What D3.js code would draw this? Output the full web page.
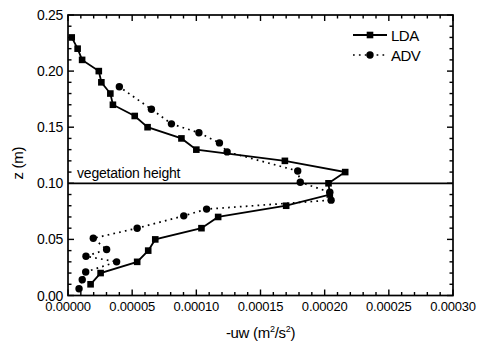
<!DOCTYPE html>
<html>
<head>
<meta charset="utf-8">
<script src="https://cdn.jsdelivr.net/npm/d3@7"></script>
<style>
  html, body { margin: 0; padding: 0; background: #fff; }
  svg { display: block; font-family: "Liberation Sans", Arial, sans-serif; }
</style>
</head>
<body>
<div id="chart"></div>
<script>
// ---------------------------------------------------------------------------
// Data: shear stress -uw vs height z
// ---------------------------------------------------------------------------
const ldaZ = [0.01, 0.02, 0.03, 0.04, 0.05, 0.06, 0.07, 0.08, 0.09, 0.10, 0.11, 0.12,
  0.13, 0.14, 0.15, 0.16, 0.17, 0.18, 0.19, 0.20, 0.21, 0.22, 0.23];
const ldaUw = [0.0000176, 0.0000254, 0.0000539, 0.0000625, 0.000068, 0.000104, 0.000117,
  0.00017, 0.000204, 0.000203, 0.000216, 0.000169, 0.0001, 0.0000884, 0.000062, 0.000052,
  0.000035, 0.000033, 0.000026, 0.000024, 0.000011, 0.0000075, 0.0000029];

const advZ = [0.006, 0.014, 0.021, 0.030, 0.035, 0.041, 0.051, 0.060, 0.071, 0.077, 0.085,
  0.092, 0.101, 0.111, 0.128, 0.136, 0.145, 0.153, 0.166, 0.186];
const advUw = [0.0000086, 0.0000111, 0.0000138, 0.0000379, 0.000014, 0.0000301, 0.0000197,
  0.0000539, 0.0000902, 0.000108, 0.000205, 0.000204, 0.000181, 0.000179, 0.000124,
  0.000118, 0.000102, 0.0000806, 0.000065, 0.00004];

const xTicks = [0, 0.00005, 0.0001, 0.00015, 0.0002, 0.00025, 0.0003];
const yTicks = [0, 0.05, 0.10, 0.15, 0.20, 0.25];
const xMinorTicks = [0.00001, 0.00002, 0.00003, 0.00004, 0.00006, 0.00007, 0.00008, 0.00009,
  0.00011, 0.00012, 0.00013, 0.00014, 0.00016, 0.00017, 0.00018, 0.00019, 0.00021, 0.00022,
  0.00023, 0.00024, 0.00026, 0.00027, 0.00028, 0.00029];
const yMinorTicks = [0.01, 0.02, 0.03, 0.04, 0.06, 0.07, 0.08, 0.09, 0.11, 0.12, 0.13, 0.14,
  0.16, 0.17, 0.18, 0.19, 0.21, 0.22, 0.23, 0.24];
const vegetationHeight = 0.10;

const width = 483, height = 349;
const margin = { top: 15, right: 30, bottom: 53.5, left: 68 };

const svg = d3.select('#chart').append('svg')
  .attr('width', width)
  .attr('height', height);

const x = d3.scaleLinear().domain([0, 0.0003]).range([margin.left, width - margin.right]);
const y = d3.scaleLinear().domain([0, 0.25]).range([height - margin.bottom, margin.top]);

const x0 = x.range()[0], x1 = x.range()[1];
const y0 = y.range()[0], y1 = y.range()[1];

// ---------------------------------------------------------------------------
// Ticks (pointing inward on all four sides)
// ---------------------------------------------------------------------------
const tickG = svg.append('g');

function addXTicks(values, len) {
  tickG.selectAll(null)
    .data(values)
    .enter().append('rect')
    .attr('x', d => x(d) - 0.7).attr('y', y0 - len)
    .attr('width', 1.4).attr('height', len)
    .attr('fill', '#000');
  tickG.selectAll(null)
    .data(values)
    .enter().append('rect')
    .attr('x', d => x(d) - 0.7).attr('y', y1)
    .attr('width', 1.4).attr('height', len)
    .attr('fill', '#000');
}
function addYTicks(values, len) {
  tickG.selectAll(null)
    .data(values)
    .enter().append('rect')
    .attr('x', x0).attr('y', d => y(d) - 0.7)
    .attr('width', len).attr('height', 1.4)
    .attr('fill', '#000');
  tickG.selectAll(null)
    .data(values)
    .enter().append('rect')
    .attr('x', x1 - len).attr('y', d => y(d) - 0.7)
    .attr('width', len).attr('height', 1.4)
    .attr('fill', '#000');
}
addXTicks(xTicks, 6);
addXTicks(xMinorTicks, 3.5);
addYTicks(yTicks, 6);
addYTicks(yMinorTicks, 3.5);

// tick labels
svg.append('g').selectAll('text')
  .data(xTicks)
  .join('text')
  .attr('x', d => x(d))
  .attr('y', y0 + 15)
  .attr('text-anchor', 'middle')
  .attr('font-size', 13).attr('letter-spacing', -0.2)
  .text(d3.format('.5f'));

svg.append('g').selectAll('text')
  .data(yTicks)
  .join('text')
  .attr('x', x0 - 5)
  .attr('y', d => y(d) + 5)
  .attr('text-anchor', 'end')
  .attr('font-size', 14).attr('letter-spacing', -0.3)
  .text(d3.format('.2f'));

// frame
svg.append('rect')
  .attr('x', x0).attr('y', y1)
  .attr('width', x1 - x0).attr('height', y0 - y1)
  .attr('fill', 'none').attr('stroke', '#000').attr('stroke-width', 1.7);

// vegetation height line
svg.append('line')
  .attr('x1', x0).attr('x2', x1)
  .attr('y1', y(vegetationHeight)).attr('y2', y(vegetationHeight))
  .attr('stroke', '#000').attr('stroke-width', 1.7);

svg.append('text')
  .attr('x', 77).attr('y', y(vegetationHeight) - 5)
  .attr('font-size', 14).attr('letter-spacing', -0.2)
  .text('vegetation height');

// ---------------------------------------------------------------------------
// Series
// ---------------------------------------------------------------------------
const lda = ldaZ.map((z, i) => ({ z, uw: ldaUw[i] }));
const adv = advZ.map((z, i) => ({ z, uw: advUw[i] }));

const lineGen = d3.line().x(d => x(d.uw)).y(d => y(d.z));

svg.append('path')
  .datum(adv)
  .attr('d', lineGen)
  .attr('fill', 'none')
  .attr('stroke', '#000')
  .attr('stroke-width', 1.7)
  .attr('stroke-dasharray', '1.7,4.2');

svg.append('path')
  .datum(lda)
  .attr('d', lineGen)
  .attr('fill', 'none')
  .attr('stroke', '#000')
  .attr('stroke-width', 1.8);

svg.selectAll('.adv-pt')
  .data(adv)
  .join('circle')
  .attr('class', 'adv-pt')
  .attr('cx', d => x(d.uw))
  .attr('cy', d => y(d.z))
  .attr('r', 3.7)
  .attr('fill', '#000');

svg.selectAll('.lda-pt')
  .data(lda)
  .join('rect')
  .attr('class', 'lda-pt')
  .attr('x', d => x(d.uw) - 3.3)
  .attr('y', d => y(d.z) - 3.3)
  .attr('width', 6.6)
  .attr('height', 6.6)
  .attr('fill', '#000');

// ---------------------------------------------------------------------------
// Legend
// ---------------------------------------------------------------------------
const legend = svg.append('g').attr('transform', 'translate(353,35)');
legend.append('line').attr('x1', 0).attr('x2', 34).attr('y1', 0).attr('y2', 0)
  .attr('stroke', '#000').attr('stroke-width', 1.8);
legend.append('rect').attr('x', 17 - 3.3).attr('y', -3.3).attr('width', 6.6).attr('height', 6.6)
  .attr('fill', '#000');
legend.append('text').attr('x', 38).attr('y', 5.5).attr('font-size', 15).attr('letter-spacing', -0.5)
  .text('LDA');

const legend2 = svg.append('g').attr('transform', 'translate(353,55)');
legend2.append('line').attr('x1', 0).attr('x2', 34).attr('y1', 0).attr('y2', 0)
  .attr('stroke', '#000').attr('stroke-width', 1.7).attr('stroke-dasharray', '1.7,4.2');
legend2.append('circle').attr('cx', 17).attr('cy', 0).attr('r', 3.7).attr('fill', '#000');
legend2.append('text').attr('x', 38).attr('y', 5.5).attr('font-size', 15).attr('letter-spacing', -0.5)
  .text('ADV');

// ---------------------------------------------------------------------------
// Axis titles
// ---------------------------------------------------------------------------
const xTitle = svg.append('text')
  .attr('x', (x0 + x1) / 2).attr('y', 338)
  .attr('text-anchor', 'middle')
  .attr('font-size', 15).attr('letter-spacing', -0.3);
xTitle.append('tspan').text('-uw (m');
xTitle.append('tspan').attr('font-size', 9).attr('dy', -6).text('2');
xTitle.append('tspan').attr('dy', 6).text('/s');
xTitle.append('tspan').attr('font-size', 9).attr('dy', -6).text('2');
xTitle.append('tspan').attr('dy', 6).text(')');

svg.append('text')
  .attr('transform', `translate(23,${(y0 + y1) / 2 + 8}) rotate(-90)`)
  .attr('text-anchor', 'middle')
  .attr('font-size', 15).attr('letter-spacing', -0.3)
  .text('z (m)');
</script>
</body>
</html>
